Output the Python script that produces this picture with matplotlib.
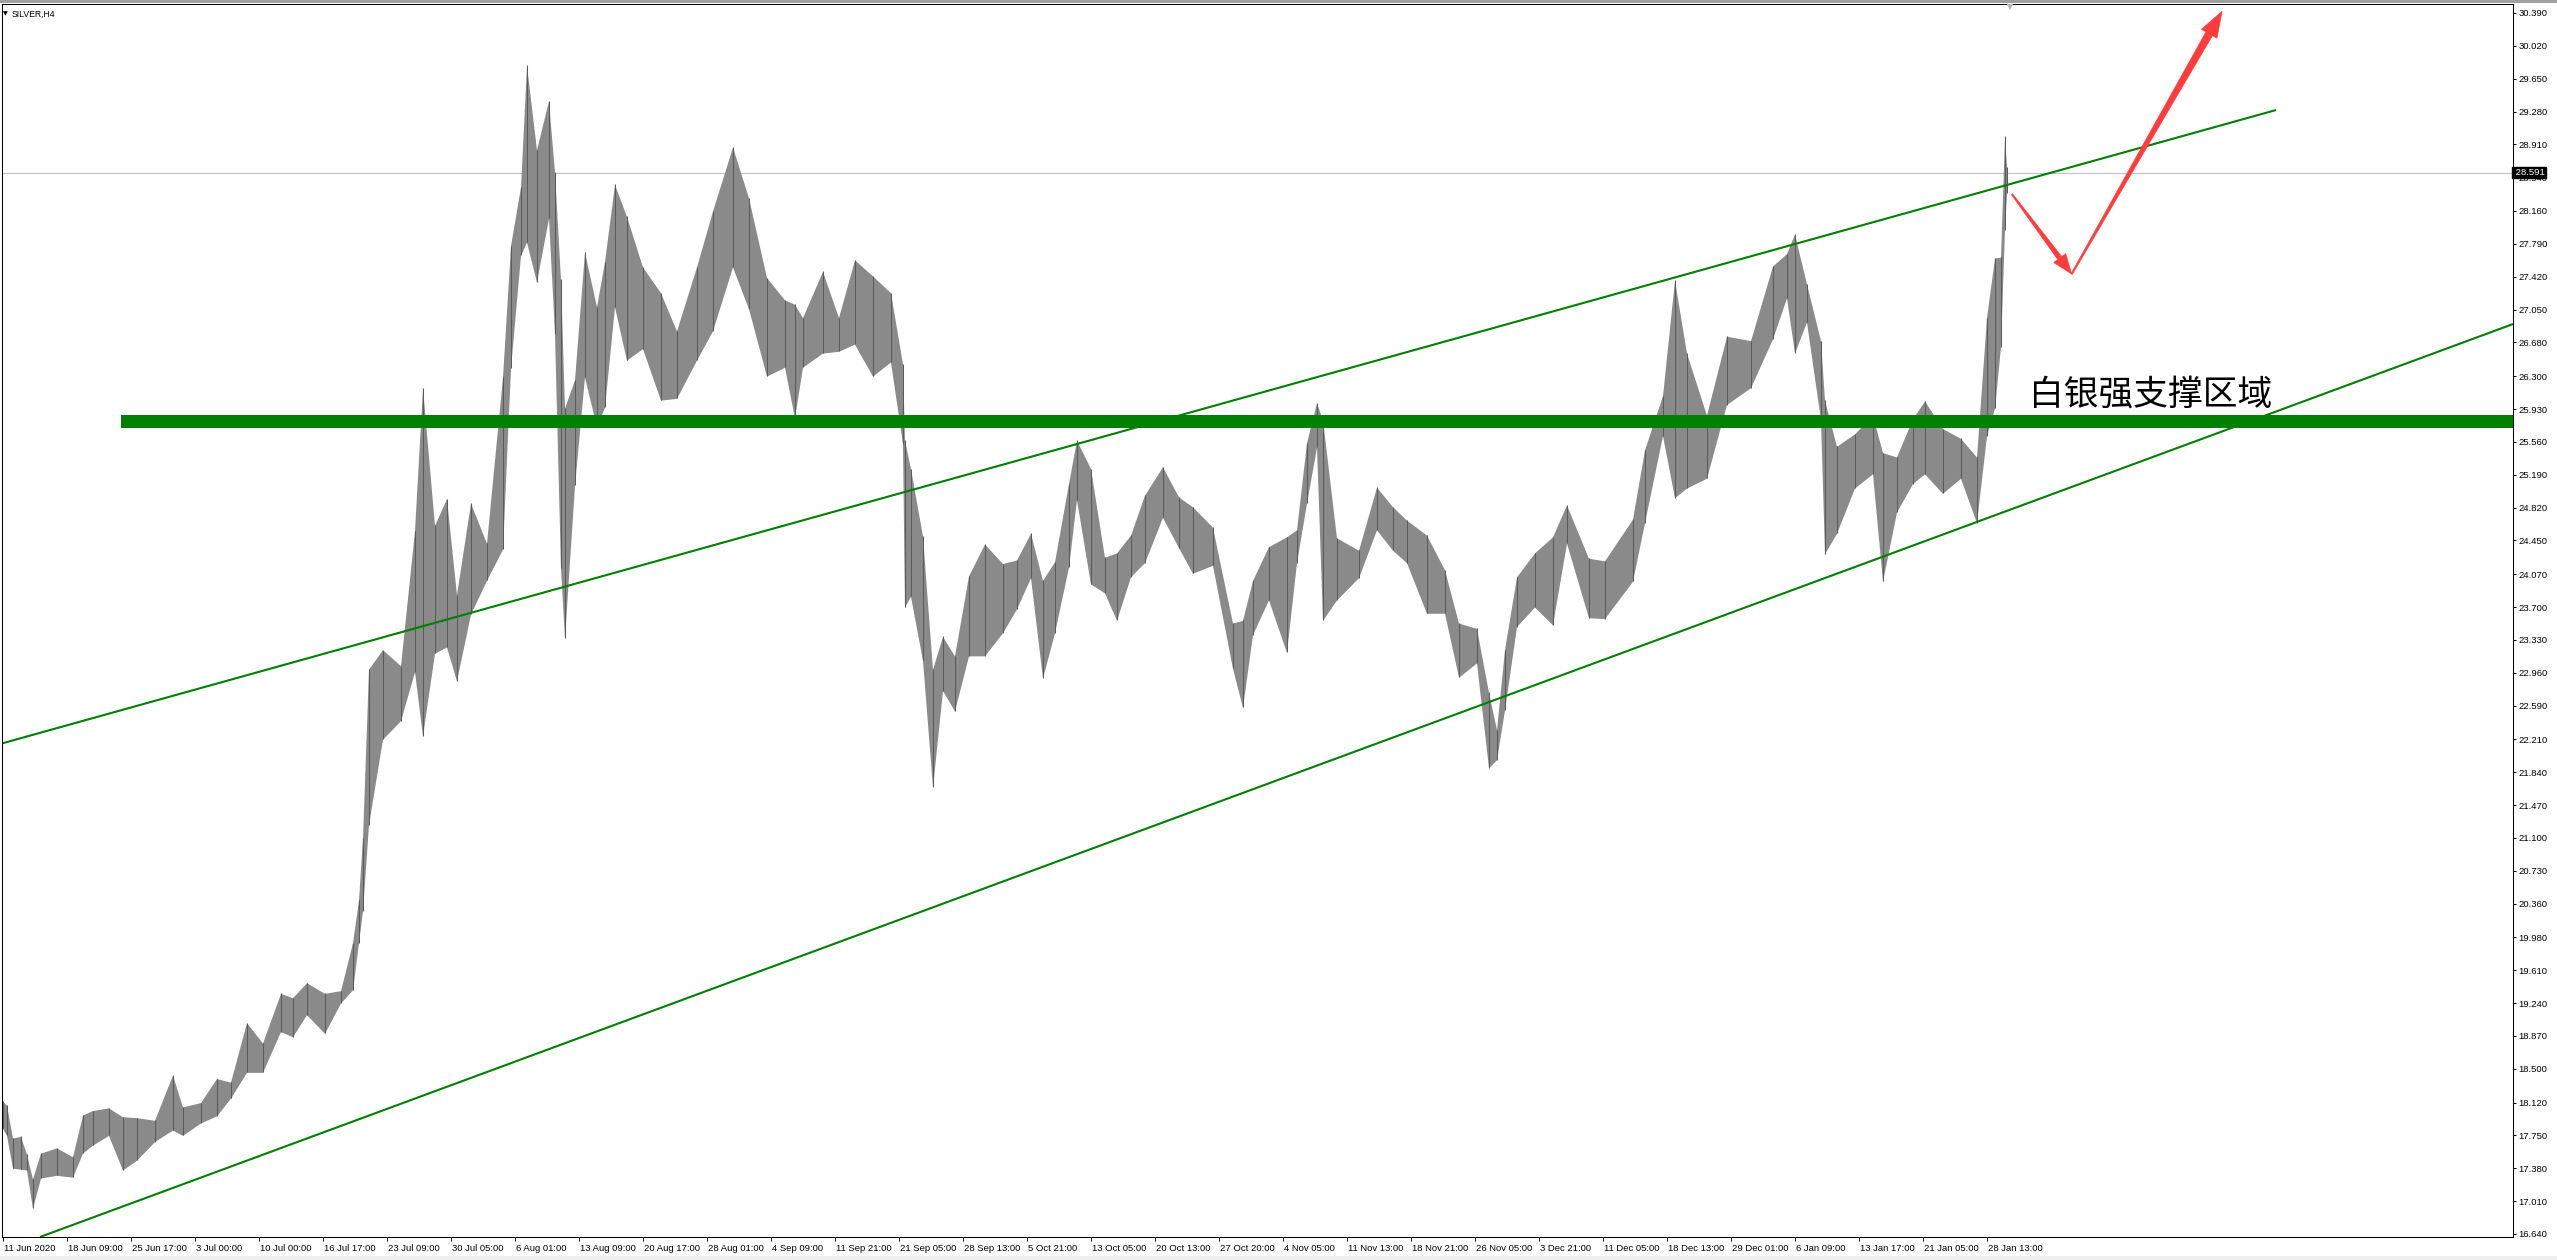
import numpy as np
import matplotlib
matplotlib.use('Agg')
import matplotlib.pyplot as plt
from matplotlib.patches import Polygon, Rectangle
from matplotlib.transforms import blended_transform_factory, ScaledTranslation, IdentityTransform

plt.rcParams['font.family'] = ['Liberation Sans', 'DejaVu Sans']

# ---------------- data ----------------
symbol_label = "SILVER,H4"

# H4 bar index (0 = 11 Jun 2020 00:00), grouped high / low of bars
bar_index = [0, 2, 5, 9, 12, 15, 19, 27, 35, 40, 45, 53, 60, 67, 76, 85, 90, 99, 107, 114,
             122, 130, 139, 145, 152, 161, 169, 175, 178, 180, 183, 190, 199, 206, 210, 216,
             222, 227, 234, 242, 250, 254, 259, 262, 267, 273, 276, 279, 281, 286, 291, 297,
             301, 306, 312, 320, 329, 337, 347, 355, 365, 373, 382, 391, 396, 400, 410, 418,
             426, 435, 444, 450, 451, 454, 460, 465, 470, 476, 483, 491, 500, 507, 514, 520,
             526, 533, 537, 544, 551, 557, 564, 571, 580, 588, 595, 605, 615, 620, 625, 633,
             642, 647, 652, 657, 660, 667, 678, 687, 695, 702, 712, 721, 728, 737, 743, 747,
             751, 757, 766, 775, 782, 793, 801, 815, 821, 830, 836, 842, 852, 862, 874, 885,
             892, 896, 902, 909, 911, 917, 926, 935, 940, 947, 955, 961, 970, 979, 987, 992,
             996, 999, 1001, 1002]
bar_high = [18.14, 18.09, 17.72, 17.74, 17.54, 17.26, 17.55, 17.61, 17.51, 17.98, 18.03, 18.06,
            17.96, 17.95, 17.92, 18.43, 18.07, 18.12, 18.39, 18.35, 19.02, 18.79, 19.35, 19.30,
            19.47, 19.35, 19.38, 19.92, 20.40, 21.10, 23.00, 23.22, 23.04, 24.56, 26.17, 24.62,
            24.92, 23.84, 24.87, 24.42, 26.29, 27.77, 28.43, 29.80, 28.85, 29.40, 28.60, 27.39,
            25.94, 26.26, 27.70, 27.08, 27.59, 28.46, 28.10, 27.53, 27.24, 26.81, 27.53, 28.16,
            28.88, 28.31, 27.41, 27.16, 27.11, 26.96, 27.48, 26.96, 27.61, 27.43, 27.24, 26.44,
            25.58, 25.26, 24.50, 23.00, 23.37, 23.15, 24.05, 24.41, 24.19, 24.23, 24.53, 24.00,
            24.21, 25.09, 25.58, 25.26, 24.26, 24.31, 24.51, 24.96, 25.28, 24.94, 24.83, 24.60,
            23.52, 23.55, 24.00, 24.38, 24.49, 24.57, 25.55, 26.00, 25.81, 24.48, 24.34, 25.05,
            24.83, 24.68, 24.51, 24.12, 23.52, 23.46, 22.74, 22.32, 23.22, 24.04, 24.31, 24.49,
            24.85, 24.25, 24.22, 24.69, 25.47, 26.08, 27.38, 26.56, 25.86, 26.75, 26.70, 27.54,
            27.68, 27.90, 27.34, 26.70, 26.03, 25.51, 25.65, 25.86, 25.44, 25.39, 25.82, 26.02,
            25.71, 25.60, 25.39, 26.96, 27.63, 27.64, 29.00, 28.66]
bar_low = [17.83, 17.75, 17.38, 17.37, 17.36, 16.93, 17.27, 17.30, 17.28, 17.55, 17.64, 17.75,
           17.36, 17.47, 17.68, 17.81, 17.75, 17.89, 17.97, 18.17, 18.46, 18.46, 18.92, 18.86,
           19.11, 18.90, 19.24, 19.39, 19.92, 20.28, 21.25, 22.21, 22.42, 22.97, 22.25, 23.18,
           23.25, 22.87, 23.62, 24.00, 24.35, 26.39, 27.66, 27.81, 27.36, 28.08, 26.78, 24.14,
           23.35, 25.07, 26.29, 25.73, 25.95, 27.08, 26.48, 26.61, 26.03, 26.05, 26.48, 26.81,
           27.53, 27.06, 26.30, 26.40, 25.83, 26.40, 26.56, 26.58, 26.66, 26.30, 26.46, 25.54,
           23.70, 23.82, 23.10, 21.67, 22.76, 22.53, 23.15, 23.15, 23.41, 23.68, 24.03, 22.90,
           23.41, 24.15, 24.91, 23.96, 23.86, 23.55, 24.04, 24.20, 24.71, 24.37, 24.08, 24.17,
           23.01, 22.57, 23.39, 23.78, 23.19, 24.20, 24.87, 25.50, 23.55, 23.78, 24.03, 24.57,
           24.34, 24.20, 23.63, 23.63, 22.91, 23.07, 21.89, 21.98, 22.54, 23.48, 23.70, 23.50,
           24.42, 23.58, 23.57, 23.99, 24.65, 25.63, 24.93, 25.04, 25.15, 25.98, 26.17, 26.72,
           27.18, 26.56, 26.91, 25.81, 24.30, 24.53, 25.04, 25.20, 23.99, 24.77, 25.09, 25.20,
           24.98, 25.15, 24.65, 25.63, 25.94, 26.63, 27.95, 28.36]

current_price = 28.591

# trend lines: (bar index, price) anchors
upper_line_idx = [-1.25, 1136.75]
upper_line_price = [22.158, 29.297]
lower_line_idx = [18.75, 1255.25]
lower_line_price = [16.606, 26.887]

# support zone (horizontal band)
zone_start_idx = 59.25
zone_low, zone_high = 25.716, 25.863
zone_text = "白银强支撑区域"
zone_text_pos = (1013.25, 26.09)

# red forecast arrows (bar index, price)
arrow1 = [(1004.7, 28.35), (1034.6, 27.45)]
arrow2 = [(1034.6, 27.45), (1109.8, 30.41)]

# axes
price_tick_labels = ["30.390", "30.020", "29.650", "29.280", "28.910", "28.540", "28.160",
                     "27.790", "27.420", "27.050", "26.680", "26.300", "25.930", "25.560",
                     "25.190", "24.820", "24.450", "24.070", "23.700", "23.330", "22.960",
                     "22.590", "22.210", "21.840", "21.470", "21.100", "20.730", "20.360",
                     "19.980", "19.610", "19.240", "18.870", "18.500", "18.120", "17.750",
                     "17.380", "17.010", "16.640"]
date_tick_labels = ["11 Jun 2020", "18 Jun 09:00", "25 Jun 17:00", "3 Jul 00:00", "10 Jul 00:00",
                    "16 Jul 17:00", "23 Jul 09:00", "30 Jul 05:00", "6 Aug 01:00", "13 Aug 09:00",
                    "20 Aug 17:00", "28 Aug 01:00", "4 Sep 09:00", "11 Sep 21:00", "21 Sep 05:00",
                    "28 Sep 13:00", "5 Oct 21:00", "13 Oct 05:00", "20 Oct 13:00", "27 Oct 20:00",
                    "4 Nov 05:00", "11 Nov 13:00", "18 Nov 21:00", "26 Nov 05:00", "3 Dec 21:00",
                    "11 Dec 05:00", "18 Dec 13:00", "29 Dec 01:00", "6 Jan 09:00", "13 Jan 17:00",
                    "21 Jan 05:00", "28 Jan 13:00"]
bars_per_date_label = 32

# ---------------- figure ----------------
W, H, DPI = 2557, 1260, 100
fig = plt.figure(figsize=(W / DPI, H / DPI), dpi=DPI, facecolor='white')
PL, PR, PT, PB = 2, 2513, 4, 1237
ax = fig.add_axes([PL / W, (H - PB) / H, (PR - PL) / W, (PB - PT) / H])
ax.set_facecolor('white')
ax.set_xlim(-0.25, 1255.25)
ax.set_ylim(16.606, 30.491)

# frame strips
fig.add_artist(Rectangle((0, 1 - 3 / H), 1, 3 / H, transform=fig.transFigure,
                         facecolor='#a0a0a0', edgecolor='none', zorder=0))
fig.add_artist(Rectangle((0, 0), 1, 4 / H, transform=fig.transFigure,
                         facecolor='#f0f0f0', edgecolor='none', zorder=0))

# price bars: envelope of grouped H4 bars plus the individual group ranges
idx = np.array(bar_index, float)
hi = np.array(bar_high)
lo = np.array(bar_low)
ax.fill_between(idx, lo, hi, color='#8a8a8a', linewidth=0, zorder=3)
ax.vlines(idx, lo, hi, color='#5a5a5a', linewidth=0.75, zorder=3)

# current price line
ax.axhline(current_price, color='#c0c0c0', lw=0.75, zorder=2)

# trend lines
ax.plot(upper_line_idx, upper_line_price, color='#008000', lw=1.5, zorder=4, solid_capstyle='butt')
ax.plot(lower_line_idx, lower_line_price, color='#008000', lw=1.5, zorder=4, solid_capstyle='butt')

# support band
ax.add_patch(Rectangle((zone_start_idx, zone_low), ax.get_xlim()[1] - zone_start_idx,
                       zone_high - zone_low, facecolor='#008000', edgecolor='none', zorder=4))
ax.text(zone_text_pos[0], zone_text_pos[1], zone_text, fontsize=25, va='center', ha='left',
        family=['Noto Sans CJK SC', 'DejaVu Sans'], color='black', zorder=6)


# tapered red arrows drawn in pixel space
def tapered_arrow(p0, p1, w0, w1, hw, hl, color):
    P0 = ax.transData.transform(p0)
    P1 = ax.transData.transform(p1)
    d = P1 - P0
    u = d / np.hypot(*d)
    n = np.array([-u[1], u[0]])
    base = P1 - u * hl
    pts = [P0 + n * w0 / 2, base + n * w1 / 2, base + n * hw / 2, P1,
           base - n * hw / 2, base - n * w1 / 2, P0 - n * w0 / 2]
    fig.add_artist(Polygon(pts, closed=True, transform=IdentityTransform(),
                           facecolor=color, edgecolor=color, lw=0.4, zorder=7))


tapered_arrow(arrow1[0], arrow1[1], 1.5, 5.0, 15, 20, '#ff3b3b')
tapered_arrow(arrow2[0], arrow2[1], 1.5, 7.5, 18, 26, '#ff3b3b')

# spines
for s in ax.spines.values():
    s.set_color('black')
    s.set_linewidth(0.75)
    s.set_zorder(8)

# y axis (right)
ax.yaxis.tick_right()
ax.set_yticks([float(t) for t in price_tick_labels])
ax.set_yticklabels(price_tick_labels)
ax.tick_params(axis='y', direction='out', length=2.5, width=0.7, pad=1.5, labelsize=6.8,
               colors='black')

# x axis
ax.set_xticks(np.arange(len(date_tick_labels)) * bars_per_date_label)
ax.set_xticklabels(date_tick_labels)
ax.tick_params(axis='x', direction='out', length=3, width=0.7, pad=2, labelsize=6.8,
               colors='black')
off = ScaledTranslation(1 / 72, 0, fig.dpi_scale_trans)
for lbl in ax.get_xticklabels():
    lbl.set_horizontalalignment('left')
    lbl.set_transform(lbl.get_transform() + off)

# current price tag
btr = blended_transform_factory(ax.transAxes, ax.transData)
ax.text(1.0, current_price, " " + f"{current_price:.3f}", transform=btr, ha='left', va='center',
        color='white', fontsize=6.8, zorder=10, clip_on=False,
        bbox=dict(boxstyle='square,pad=0.12', facecolor='black', edgecolor='black'))

# chart shift marker
ax.plot([1003.75], [1 - 3 / 1233], marker='v', color='#b4b4b4', ms=5, mew=0,
        transform=blended_transform_factory(ax.transData, ax.transAxes), clip_on=False, zorder=9)

# symbol label
fig.text(3 / W, 1 - 14 / H, "\u25BC", fontsize=4.5, va='center', ha='left', family='DejaVu Sans')
fig.text(12 / W, 1 - 14 / H, symbol_label, fontsize=6.2, va='center', ha='left')

fig.savefig('out.png', dpi=DPI, facecolor='white')
